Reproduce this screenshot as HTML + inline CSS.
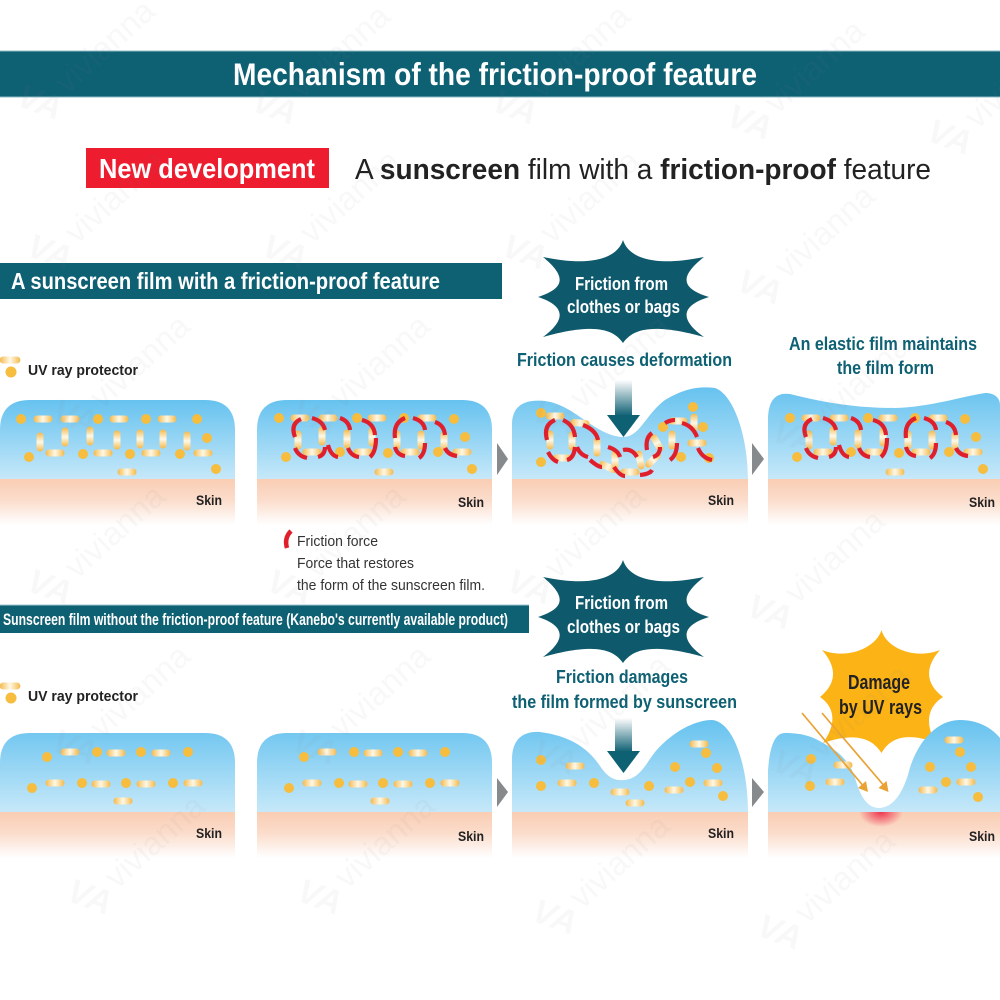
<!DOCTYPE html>
<html><head><meta charset="utf-8"><style>
html,body{margin:0;padding:0;background:#fff;width:1000px;height:1000px;overflow:hidden}
svg{display:block;filter:blur(.35px)}
text{font-family:"Liberation Sans",sans-serif}
.b{font-weight:700}
.t{fill:#0e6073;font-weight:700;font-size:18.500px}
.w{fill:#fff;font-weight:700}
.k{fill:#222;font-weight:700;font-size:13.500px}
.r{fill:none;stroke:#e01f2d;stroke-width:4.200;stroke-linecap:butt}
</style></head><body>
<svg width="1000" height="1000" viewBox="0 0 1000 1000" xmlns="http://www.w3.org/2000/svg">
<defs>
<linearGradient id="blue" x1="0" y1="0" x2="0" y2="1"><stop offset="0" stop-color="#66c2ef"/><stop offset="1" stop-color="#c6e8f9"/></linearGradient>
<linearGradient id="blue3" gradientUnits="userSpaceOnUse" x1="0" y1="387" x2="0" y2="479"><stop offset="0" stop-color="#66c2ef"/><stop offset="1" stop-color="#c6e8f9"/></linearGradient>
<linearGradient id="blue4" gradientUnits="userSpaceOnUse" x1="0" y1="720" x2="0" y2="812"><stop offset="0" stop-color="#66c2ef"/><stop offset="1" stop-color="#c6e8f9"/></linearGradient>
<linearGradient id="skin" x1="0" y1="0" x2="0" y2="1"><stop offset="0" stop-color="#f9cdb3"/><stop offset=".45" stop-color="#fbdccb"/><stop offset="1" stop-color="#fff"/></linearGradient>
<linearGradient id="cap" x1="0" y1="0" x2="1" y2="0"><stop offset="0" stop-color="#f4b94c"/><stop offset=".5" stop-color="#fff8e6"/><stop offset="1" stop-color="#f4b94c"/></linearGradient>
<linearGradient id="shaft" x1="0" y1="0" x2="0" y2="1"><stop offset="0" stop-color="#fff"/><stop offset="1" stop-color="#0e6073"/></linearGradient>
<radialGradient id="glow"><stop offset="0" stop-color="#ee3450"/><stop offset="1" stop-color="#ee3450" stop-opacity="0"/></radialGradient>
<clipPath id="cg"><rect x="850" y="812" width="60" height="30"/></clipPath>
<rect id="c" x="-9.500" y="-3.500" width="19" height="7" rx="3.500" fill="url(#cap)"/>
<circle id="d" r="5" fill="#f6bd3f"/>
<path id="star" d="M623 240C628 256 650 268 704 257C680 276 680 288 709 297C680 306 680 320 704 337C650 322 632 330 623 343C614 330 596 322 543 337C566 320 566 306 538 297C566 288 566 276 543 257C596 268 618 256 623 240Z" fill="#0e5a6c"/>
<g id="wm" fill="#888" opacity=".05">
<text x="0" y="0" font-size="34" font-style="italic" font-weight="700" transform="rotate(20)">VA</text>
<text x="52" y="-10" font-size="33" transform="rotate(-42 52 -10)">vivianna</text>
</g>
<g id="pn">
<use href="#d" x="279" y="418"/><use href="#d" x="357" y="418"/><use href="#d" x="404" y="418"/><use href="#d" x="454" y="419"/><use href="#d" x="465" y="437"/><use href="#d" x="286" y="457"/><use href="#d" x="340" y="452"/><use href="#d" x="388" y="453"/><use href="#d" x="438" y="452"/><use href="#d" x="472" y="469"/>
<use href="#c" x="300" y="418"/><use href="#c" x="328" y="418"/><use href="#c" x="377" y="418"/><use href="#c" x="427" y="418"/><use href="#c" x="312" y="452"/><use href="#c" x="363" y="452"/><use href="#c" x="410" y="452"/><use href="#c" x="462" y="452"/><use href="#c" x="384" y="472"/>
<use href="#c" transform="translate(298 440) rotate(90)"/><use href="#c" transform="translate(322 436) rotate(90)"/><use href="#c" transform="translate(347 439) rotate(90)"/><use href="#c" transform="translate(372 437) rotate(90)"/><use href="#c" transform="translate(397 440) rotate(90)"/><use href="#c" transform="translate(421 440) rotate(90)"/><use href="#c" transform="translate(444 441) rotate(90)"/>
<path class="r" d="M295 437Q290 424 301 419M312 418Q323 421 325 430M295 448Q298 456 307 458M325 447Q325 455 318 457M328 445Q331 456 338 457M340 418Q349 421 350 430M348 448Q351 456 359 457M362 420Q374 423 375 435M376 438Q376 452 370 457M405 418Q393 423 395 438M395 447Q397 455 405 456M413 418Q424 421 425 430M425 443Q425 454 419 458M435 422Q444 425 445 435M445 448Q448 455 457 456"/>
</g>
<g id="row2">
<use href="#d" x="47" y="757"/><use href="#d" x="97" y="752"/><use href="#d" x="141" y="752"/><use href="#d" x="188" y="752"/><use href="#d" x="32" y="788"/><use href="#d" x="82" y="783"/><use href="#d" x="126" y="783"/><use href="#d" x="173" y="783"/>
<use href="#c" x="70" y="752"/><use href="#c" x="116" y="753"/><use href="#c" x="161" y="753"/><use href="#c" x="55" y="783"/><use href="#c" x="101" y="784"/><use href="#c" x="146" y="784"/><use href="#c" x="193" y="783"/><use href="#c" x="123" y="801"/>
</g>
</defs>
<rect width="1000" height="1000" fill="#fff"/>

<!-- header -->
<rect x="0" y="51" width="1000" height="46" fill="#0e6073"/>
<rect x="0" y="50.500" width="1000" height="1" fill="#8fbcc6"/><rect x="0" y="96.500" width="1000" height="1" fill="#8fbcc6"/>
<text class="w" x="233" y="85" font-size="31.500" textLength="524" lengthAdjust="spacingAndGlyphs">Mechanism of the friction-proof feature</text>
<rect x="86" y="148" width="243" height="40" fill="#ed1c2e"/>
<text class="w" x="99" y="178" font-size="28" textLength="216" lengthAdjust="spacingAndGlyphs">New development</text>
<text x="355" y="179" font-size="28.500" fill="#222" textLength="576" lengthAdjust="spacingAndGlyphs">A <tspan class="b">sunscreen</tspan> film with a <tspan class="b">friction-proof</tspan> feature</text>

<!-- section bars -->
<rect x="0" y="263" width="502" height="36" fill="#0e6073"/>
<text class="w" x="11" y="289" font-size="23" textLength="429" lengthAdjust="spacingAndGlyphs">A sunscreen film with a friction-proof feature</text>
<rect x="0" y="605" width="529" height="28" fill="#0e6073"/>
<rect x="0" y="604.500" width="529" height="1" fill="#9fc6cf"/>
<text class="w" x="3" y="625" font-size="17" textLength="505" lengthAdjust="spacingAndGlyphs">Sunscreen film without the friction-proof feature (Kanebo's currently available product)</text>

<!-- stars -->
<use href="#star"/>
<use href="#star" y="320"/>
<g font-size="18">
<text class="w" x="575" y="290" textLength="93" lengthAdjust="spacingAndGlyphs">Friction from</text>
<text class="w" x="567" y="313" textLength="113" lengthAdjust="spacingAndGlyphs">clothes or bags</text>
<text class="w" x="575" y="609" textLength="93" lengthAdjust="spacingAndGlyphs">Friction from</text>
<text class="w" x="567" y="633" textLength="113" lengthAdjust="spacingAndGlyphs">clothes or bags</text>
</g>
<text class="t" x="517" y="366" textLength="215" lengthAdjust="spacingAndGlyphs">Friction causes deformation</text>
<text class="t" x="789" y="350" textLength="188" lengthAdjust="spacingAndGlyphs">An elastic film maintains</text>
<text class="t" x="837" y="374" textLength="97" lengthAdjust="spacingAndGlyphs">the film form</text>
<text class="t" x="556" y="683" textLength="132" lengthAdjust="spacingAndGlyphs">Friction damages</text>
<text class="t" x="512" y="708" textLength="225" lengthAdjust="spacingAndGlyphs">the film formed by sunscreen</text>

<!-- legend -->
<use href="#c" transform="translate(10 360) scale(1.1 1)"/><circle cx="11" cy="372" r="5.500" fill="#f6bd3f"/>
<text x="28" y="375" font-size="15" class="b" fill="#222" textLength="110" lengthAdjust="spacingAndGlyphs">UV ray protector</text>
<use href="#c" transform="translate(10 686) scale(1.1 1)"/><circle cx="11" cy="698" r="5.500" fill="#f6bd3f"/>
<text x="28" y="701" font-size="15" class="b" fill="#222" textLength="110" lengthAdjust="spacingAndGlyphs">UV ray protector</text>
<path d="M291 531Q284 538 287 548" fill="none" stroke="#e01f2d" stroke-width="4.500"/>
<g font-size="15" fill="#333">
<text x="297" y="546" textLength="81" lengthAdjust="spacingAndGlyphs">Friction force</text>
<text x="297" y="568" textLength="117" lengthAdjust="spacingAndGlyphs">Force that restores</text>
<text x="297" y="590" textLength="188" lengthAdjust="spacingAndGlyphs">the form of the sunscreen film.</text>
</g>

<!-- ROW 1 panels -->
<path d="M0 479V430Q0 400 30 400H205Q235 400 235 430V479Z" fill="url(#blue)"/><rect x="0" y="479" width="235" height="46" fill="url(#skin)"/>
<path d="M257 479V430Q257 400 287 400H462Q492 400 492 430V479Z" fill="url(#blue)"/><rect x="257" y="479" width="235" height="46" fill="url(#skin)"/>
<path d="M512 479V425C512 405 525 399 545 401C575 405 595 436 623 437C640 437 645 415 665 400C685 388 700 386 715 388C735 395 748 440 748 479Z" fill="url(#blue3)"/><rect x="512" y="479" width="236" height="46" fill="url(#skin)"/>
<path d="M768 479V420C768 400 776 392 790 394C830 404 860 408 895 408C930 407 960 397 985 393C995 393 1000 398 1000 405V479Z" fill="url(#blue3)"/><rect x="768" y="479" width="232" height="46" fill="url(#skin)"/>

<!-- row 1 panel 1 -->
<g>
<use href="#d" x="21" y="419"/><use href="#d" x="98" y="419"/><use href="#d" x="146" y="419"/><use href="#d" x="197" y="419"/><use href="#d" x="207" y="438"/><use href="#d" x="29" y="457"/><use href="#d" x="83" y="454"/><use href="#d" x="130" y="454"/><use href="#d" x="180" y="454"/><use href="#d" x="216" y="469"/>
<use href="#c" x="43" y="419"/><use href="#c" x="70" y="419"/><use href="#c" x="119" y="419"/><use href="#c" x="167" y="419"/><use href="#c" x="55" y="453"/><use href="#c" x="103" y="453"/><use href="#c" x="151" y="453"/><use href="#c" x="203" y="453"/><use href="#c" x="127" y="472"/>
<use href="#c" transform="translate(40 442) rotate(90)"/><use href="#c" transform="translate(65 437) rotate(90)"/><use href="#c" transform="translate(90 436) rotate(90)"/><use href="#c" transform="translate(117 440) rotate(90)"/><use href="#c" transform="translate(140 439) rotate(90)"/><use href="#c" transform="translate(163 439) rotate(90)"/><use href="#c" transform="translate(187 441) rotate(90)"/>
</g>
<use href="#pn"/>
<use href="#pn" x="511"/>

<!-- row 1 panel 3 -->
<g>
<use href="#d" x="541" y="413"/><use href="#d" x="541" y="462"/><use href="#d" x="693" y="407"/><use href="#d" x="703" y="427"/><use href="#d" x="663" y="427"/><use href="#d" x="681" y="457"/><use href="#d" x="709" y="458"/>
<use href="#c" x="555" y="416"/><use href="#c" transform="translate(580 423) rotate(5)"/><use href="#c" x="562" y="458"/><use href="#c" x="630" y="472"/><use href="#c" x="678" y="421"/><use href="#c" x="697" y="443"/>
<use href="#c" transform="translate(608 467) rotate(25)"/><use href="#c" transform="translate(550 440) rotate(90)"/><use href="#c" transform="translate(572 441) rotate(90)"/><use href="#c" transform="translate(597 447) rotate(90)"/><use href="#c" transform="translate(615 460) rotate(90)"/><use href="#c" transform="translate(640 460) rotate(80)"/><use href="#c" transform="translate(653 460) rotate(-45)"/><use href="#c" transform="translate(657 443) rotate(60)"/><use href="#c" transform="translate(672 440) rotate(90)"/><use href="#c" transform="translate(694 423) rotate(90)"/>
<path class="r" d="M547 440Q543 425 555 420M563 420Q574 425 575 437M548 452Q552 460 558 462M567 460Q574 458 575 447M583 425Q596 430 598 440M577 447Q580 455 588 457M590 460Q598 467 602 467M608 447Q618 450 620 457M623 450Q632 448 637 457M614 467Q620 476 625 476M640 475Q650 474 652 470M652 433Q645 438 647 450M653 457Q660 455 660 447M665 423Q670 420 675 420M677 443Q677 455 670 460M682 423Q693 426 697 437M698 448Q702 458 712 460"/>
</g>

<!-- ROW 2 panels -->
<path d="M0 812V763Q0 733 30 733H205Q235 733 235 763V812Z" fill="url(#blue4)"/><rect x="0" y="812" width="235" height="46" fill="url(#skin)"/>
<path d="M257 812V763Q257 733 287 733H462Q492 733 492 763V812Z" fill="url(#blue4)"/><rect x="257" y="812" width="235" height="46" fill="url(#skin)"/>
<path d="M512 812V760C512 740 522 731 540 732C570 736 588 748 600 766C608 778 615 781 625 780C640 778 645 765 655 752C672 732 695 720 712 720C735 722 748 770 748 812Z" fill="url(#blue4)"/><rect x="512" y="812" width="236" height="46" fill="url(#skin)"/>
<use href="#row2"/><use href="#row2" x="257"/>
<g>
<use href="#d" x="541" y="760"/><use href="#d" x="541" y="786"/><use href="#d" x="594" y="783"/><use href="#d" x="649" y="786"/><use href="#d" x="675" y="767"/><use href="#d" x="706" y="753"/><use href="#d" x="717" y="768"/><use href="#d" x="690" y="782"/><use href="#d" x="723" y="796"/>
<use href="#c" x="575" y="766"/><use href="#c" x="567" y="783"/><use href="#c" x="620" y="792"/><use href="#c" x="635" y="803"/><use href="#c" x="674" y="790"/><use href="#c" x="713" y="783"/><use href="#c" x="699" y="744"/>
</g>

<!-- Damage panel -->
<path d="M881.500 630C886 648 915 660 940 650C924 668 926 684 943 697C926 708 926 725 935 742C905 732 890 738 881.500 753C872 738 855 732 823 743C836 725 836 708 820 697C836 684 838 668 822 650C847 660 876 648 881.500 630Z" fill="#fbb316"/>
<path d="M768 812V770C770 745 775 733 785 733C805 733 815 738 823 743C840 752 850 762 855 778C860 795 866 807 878 808C895 808 903 790 908 775C915 745 935 720 960 720C978 720 992 728 1000 738V812Z" fill="url(#blue4)"/>
<rect x="768" y="812" width="232" height="46" fill="url(#skin)"/>
<ellipse cx="881" cy="812" rx="22" ry="15" fill="url(#glow)" clip-path="url(#cg)"/>
<use href="#d" x="811" y="759"/><use href="#d" x="810" y="786"/><use href="#d" x="930" y="767"/><use href="#d" x="946" y="782"/><use href="#d" x="960" y="752"/><use href="#d" x="971" y="767"/><use href="#d" x="978" y="797"/>
<use href="#c" x="843" y="765"/><use href="#c" x="835" y="782"/><use href="#c" x="928" y="790"/><use href="#c" x="966" y="782"/><use href="#c" x="954" y="740"/>
<g fill="none" stroke="#e9a234" stroke-width="1.700">
<path d="M802 713L865 788"/>
<path d="M822 713L886 788"/>
</g>
<path d="M868 792L858 788L866 781Z" fill="#e9a234"/><path d="M888.500 792L878.500 788L886.500 781Z" fill="#e9a234"/>
<text x="848" y="689" font-size="20" class="b" fill="#222" textLength="62" lengthAdjust="spacingAndGlyphs">Damage</text>
<text x="839" y="714" font-size="20" class="b" fill="#222" textLength="83" lengthAdjust="spacingAndGlyphs">by UV rays</text>

<!-- down arrows -->
<rect x="615" y="380" width="17" height="36" fill="url(#shaft)"/><path d="M607 415H640L623.500 437Z" fill="#0e6073"/>
<rect x="615" y="718" width="17" height="34" fill="url(#shaft)"/><path d="M607 751H640L623.500 773Z" fill="#0e6073"/>

<!-- gray triangles -->
<g fill="#868a8d">
<path d="M497 443L508 459L497 475Z"/><path d="M752 443L764 459L752 475Z"/>
<path d="M497 778L508 792L497 807Z"/><path d="M752 778L764 792L752 807Z"/>
</g>

<!-- skin labels -->
<g class="k">
<text class="k" x="196" y="505" textLength="26" lengthAdjust="spacingAndGlyphs">Skin</text><text class="k" x="458" y="507" textLength="26" lengthAdjust="spacingAndGlyphs">Skin</text><text class="k" x="708" y="505" textLength="26" lengthAdjust="spacingAndGlyphs">Skin</text><text class="k" x="969" y="507" textLength="26" lengthAdjust="spacingAndGlyphs">Skin</text>
<text class="k" x="196" y="838" textLength="26" lengthAdjust="spacingAndGlyphs">Skin</text><text class="k" x="458" y="841" textLength="26" lengthAdjust="spacingAndGlyphs">Skin</text><text class="k" x="708" y="838" textLength="26" lengthAdjust="spacingAndGlyphs">Skin</text><text class="k" x="969" y="841" textLength="26" lengthAdjust="spacingAndGlyphs">Skin</text>
</g>

<!-- watermark -->
<use href="#wm" x="15" y="105"/><use href="#wm" x="250" y="110"/><use href="#wm" x="490" y="110"/><use href="#wm" x="725" y="125"/><use href="#wm" x="925" y="140"/>
<use href="#wm" x="25" y="255"/><use href="#wm" x="260" y="255"/><use href="#wm" x="500" y="255"/><use href="#wm" x="735" y="290"/>
<use href="#wm" x="50" y="420"/><use href="#wm" x="290" y="420"/><use href="#wm" x="530" y="420"/><use href="#wm" x="770" y="440"/>
<use href="#wm" x="25" y="590"/><use href="#wm" x="265" y="590"/><use href="#wm" x="505" y="590"/><use href="#wm" x="745" y="615"/>
<use href="#wm" x="50" y="750"/><use href="#wm" x="290" y="750"/><use href="#wm" x="530" y="760"/><use href="#wm" x="770" y="770"/>
<use href="#wm" x="65" y="900"/><use href="#wm" x="295" y="900"/><use href="#wm" x="530" y="920"/><use href="#wm" x="755" y="935"/>
</svg>
</body></html>
